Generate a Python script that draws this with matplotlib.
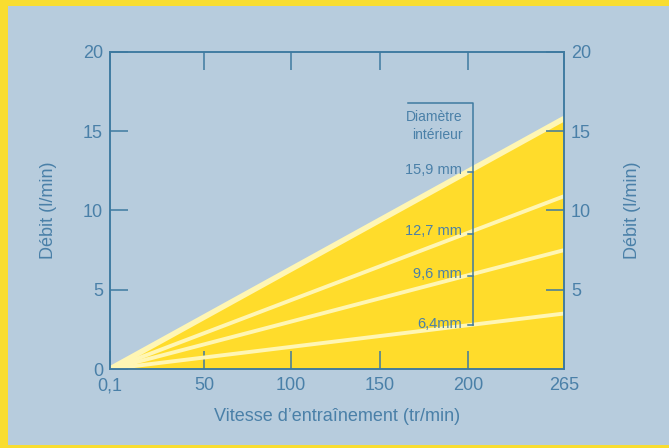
import numpy as np
import matplotlib
matplotlib.use('Agg')
import matplotlib.pyplot as plt
from matplotlib.patches import Rectangle

plt.rcParams['font.family'] = ['Liberation Sans', 'DejaVu Sans']

# data
speed = [0.1, 265]
diameters = ['15,9 mm', '12,7 mm', '9,6 mm', '6,4mm']
flow_at_max = [15.8, 10.9, 7.5, 3.5]
x_ticks = [0.1, 50, 100, 150, 200, 265]
x_labels = ['0,1', '50', '100', '150', '200', '265']
y_ticks = [0, 5, 10, 15, 20]
right_ticks = [5, 10, 15, 20]

# where each x tick sits along the axis (the original axis is not quite linear)
x_frac = [0, 0.207, 0.399, 0.595, 0.789, 1]

bg = '#b7ccdd'
border = '#f9dd30'
axcol = '#3e7aa0'
txtcol = '#4a80a8'
fillcol = '#ffdc2b'
linecol = '#fff6b4'

fig = plt.figure(figsize=(6.69, 4.48), dpi=100, facecolor=border)
fig.patches.append(Rectangle((8/669, 3/448), 1, 1 - 9/448, transform=fig.transFigure,
                             facecolor=bg, edgecolor='none', zorder=-10))

ax = fig.add_axes([110/669, 79/448, 454/669, 317/448])
ax.set_facecolor(bg)
ax.set_xscale('function', functions=(lambda x: np.interp(x, x_ticks, x_frac),
                                     lambda f: np.interp(f, x_frac, x_ticks)))
ax.set_xlim(0.1, 265)
ax.set_ylim(0, 20)

ax.fill_between(speed, [0, 0], [0, flow_at_max[0]], color=fillcol, lw=0, zorder=1)
for i, v in enumerate(flow_at_max):
    ax.plot(speed, [0, v], color=linecol, lw=4 if i == 0 else 2.8,
            solid_capstyle='butt', zorder=2)

for s in ax.spines.values():
    s.set_color(axcol)
    s.set_linewidth(1.1)

ax.set_xticks(x_ticks)
ax.set_xticklabels(x_labels)
ax.set_yticks(y_ticks)
ax.tick_params(direction='in', length=13, width=1.1, color=axcol, labelcolor=txtcol,
               labelsize=13, top=True)
ax.tick_params(axis='x', pad=6)
ax.tick_params(axis='y', pad=5)

ax2 = ax.twinx()
ax2.set_ylim(0, 20)
ax2.set_yticks(right_ticks)
ax2.tick_params(direction='in', length=13, width=1.1, color=axcol, labelcolor=txtcol,
                labelsize=13, pad=5)
for s in ax2.spines.values():
    s.set_color(axcol)
    s.set_linewidth(1.1)

ax.set_xlabel('Vitesse d\u2019entraînement (tr/min)', color=txtcol, fontsize=13, labelpad=10)
ax.set_ylabel('Débit (l/min)', color=txtcol, fontsize=13, labelpad=19)
ax2.set_ylabel('Débit (l/min)', color=txtcol, fontsize=13, labelpad=24)

# bracket with diameter labels
bx = 0.799
label_y = [0.629, 0.434, 0.301, 0.142]
tick_y = [0.622, 0.426, 0.294, 0.139]
ax.plot([0.657, bx, bx], [0.839, 0.839, 0.139], transform=ax.transAxes,
        color=axcol, lw=1.1, zorder=3)
for ty in tick_y:
    ax.plot([bx - 0.01, bx], [ty, ty], transform=ax.transAxes, color=axcol, lw=1.1, zorder=3)
ax.text(0.776, 0.766, 'Diamètre\nintérieur', transform=ax.transAxes, ha='right', va='center',
        color=txtcol, fontsize=10, linespacing=1.4)
for lab, ly in zip(diameters, label_y):
    ax.text(0.776, ly, lab, transform=ax.transAxes, ha='right', va='center',
            color=txtcol, fontsize=10.5)

fig.savefig('out.png', dpi=100, facecolor=fig.get_facecolor())
